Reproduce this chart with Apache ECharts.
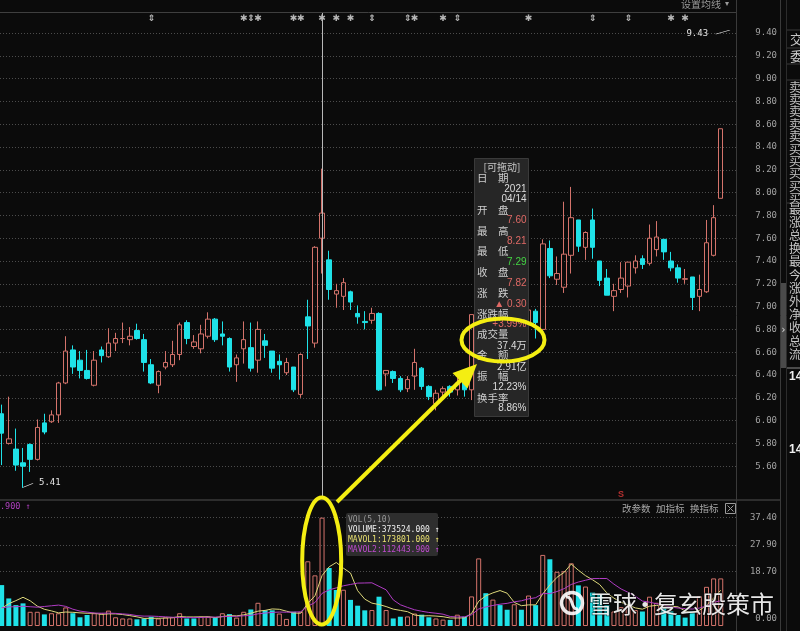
<!DOCTYPE html>
<html><head><meta charset="utf-8">
<script src="https://cdn.jsdelivr.net/npm/echarts@6/dist/echarts.min.js"></script>
<style>html,body{margin:0;padding:0;background:#0b0b0b;}#c{width:800px;height:631px;}</style>
</head><body><div id="c"></div><script>
// ---------------- data ----------------
const opens = [6.06,5.80,5.75,5.63,5.79,5.66,5.98,5.99,6.05,6.33,
6.62,6.53,6.44,6.31,6.62,6.56,6.68,6.72,6.71,6.79,
6.71,6.49,6.31,6.47,6.49,6.58,6.86,6.65,6.63,6.74,
6.89,6.76,6.72,6.49,6.63,6.64,6.53,6.70,6.61,6.52,
6.42,6.47,6.23,6.91,6.68,7.60,7.41,7.11,7.09,7.13,
6.94,6.87,6.88,6.94,6.41,6.43,6.37,6.28,6.39,6.46,
6.30,6.15,6.25,6.30,6.27,6.33,6.27,6.95,7.18,7.00,
7.06,6.98,6.90,6.96,6.84,6.96,6.80,7.51,7.24,7.17,
7.45,7.76,7.52,7.76,7.40,7.25,7.09,7.15,7.18,7.34,
7.42,7.38,7.50,7.59,7.40,7.34,7.24,7.26,7.09,7.13,
7.45,7.95];
const closes = [5.89,5.84,5.61,5.60,5.66,5.94,5.90,6.05,6.33,6.61,
6.47,6.44,6.37,6.53,6.57,6.68,6.72,6.72,6.74,6.72,
6.51,6.33,6.43,6.51,6.58,6.84,6.72,6.69,6.76,6.89,
6.71,6.74,6.47,6.55,6.71,6.46,6.80,6.66,6.46,6.49,
6.51,6.27,6.58,6.83,7.52,7.82,7.15,7.14,7.21,7.04,
6.91,6.86,6.94,6.27,6.44,6.37,6.27,6.36,6.51,6.30,
6.21,6.24,6.28,6.25,6.33,6.27,6.93,7.20,7.02,7.08,
6.98,6.90,6.97,6.85,6.97,6.86,7.55,7.27,7.29,7.46,
7.78,7.53,7.65,7.52,7.23,7.10,7.14,7.25,7.39,7.40,
7.37,7.60,7.61,7.48,7.34,7.25,7.245,7.08,7.15,7.56,
7.78,8.56];
const highs = [6.14,6.21,5.93,5.76,5.80,6.01,6.06,6.09,6.34,6.74,
6.66,6.61,6.62,6.61,6.65,6.81,6.77,6.86,6.82,6.85,
6.76,6.54,6.44,6.61,6.70,6.86,6.88,6.75,6.84,6.95,
6.90,6.87,6.73,6.58,6.87,6.86,6.87,6.76,6.61,6.58,
6.55,6.47,6.59,7.06,7.53,8.21,7.49,7.20,7.25,7.14,
7.01,6.96,6.99,6.95,6.44,6.44,6.39,6.39,6.63,6.47,
6.31,6.27,6.30,6.31,6.39,6.41,6.93,7.35,7.22,7.15,
7.10,7.00,7.02,6.98,7.09,6.98,7.59,7.58,7.44,7.92,
8.05,7.76,7.66,7.86,7.40,7.33,7.20,7.39,7.39,7.45,
7.45,7.72,7.75,7.59,7.48,7.37,7.33,7.26,7.28,7.76,
7.89,8.56];
const lows = [5.61,5.79,5.56,5.41,5.55,5.65,5.88,5.98,5.98,6.32,
6.41,6.37,6.36,6.30,6.51,6.55,6.61,6.68,6.66,6.71,
6.43,6.32,6.24,6.45,6.47,6.53,6.67,6.63,6.59,6.72,
6.69,6.66,6.43,6.34,6.50,6.43,6.42,6.55,6.42,6.36,
6.40,6.25,6.20,6.54,6.64,7.29,7.06,6.99,6.97,6.97,
6.85,6.80,6.85,6.26,6.30,6.33,6.25,6.25,6.27,6.27,
6.18,6.09,6.18,6.21,6.22,6.21,6.18,6.90,6.98,6.95,
6.94,6.86,6.87,6.82,6.80,6.72,6.78,7.25,7.19,7.12,
7.29,7.48,7.41,7.42,7.18,7.10,6.96,7.12,7.08,7.29,
7.33,7.36,7.44,7.41,7.31,7.21,7.20,6.97,6.96,7.12,
7.44,7.95];
// volume in 万 shares
const volumes = [14.1,9.5,7.2,7.8,4.9,4.9,4.0,4.4,4.4,6.4,
4.4,3.0,3.8,4.4,4.4,5.3,3.0,2.6,2.6,2.3,
2.6,3.2,2.6,3.0,3.0,4.4,2.6,2.6,3.2,3.2,
2.9,4.4,4.1,2.9,4.9,5.7,8.0,5.4,5.4,4.3,
2.44,4.9,4.9,22.3,17.45,37.35,20.0,12.4,12.5,9.0,
7.0,5.4,5.5,10.1,5.5,2.6,3.2,3.3,4.3,3.9,
3.0,2.6,2.2,2.1,3.9,3.2,10.2,23.3,11.3,9.1,
7.2,5.6,7.5,5.6,10.5,7.2,24.5,23.0,18.7,18.9,
21.6,14.0,13.6,11.5,10.7,7.2,5.0,6.5,7.0,5.5,
5.0,10.1,8.0,6.1,5.0,3.8,2.9,5.0,10.3,13.5,
16.4,16.4];
// volumes of the days just before the window (seed the moving averages)
const priorVolumes = [6.6,6.5,6.2,6.6,6.5,1.5,2.0,2.0,10.9];
const priceTicks = [5.6,5.8,6.0,6.2,6.4,6.6,6.8,7.0,7.2,7.4,7.6,7.8,8.0,8.2,8.4,8.6,8.8,9.0,9.2,9.4];
const volLabelTicks = [0, 18.7, 27.9, 37.4];
const volGridTicks = [18.7, 27.9, 37.4];
const starMarks = [35,37,42,43,46,48,50,59,63,75,95,97];   // day numbers
const arrowMarks = [22,36,53,58,65,84,89];
const sellSignalDay = 88;
const cursorDay = 46;
const periodHigh = 9.43;

// ---------------- layout constants ----------------
const PMIN = 5.3211, PMAX = 9.5842, VMAX = 42.74, MARK_ROW = 9.53, SIG_ROW = 5.35;
const RED = '#d4736b', CYAN = '#1fe2e8', YEL = '#f4ee12';
const N = closes.length;
const cats = closes.map((_, i) => String(i + 1));
const candleData = closes.map((c, i) => [opens[i], c, lows[i], highs[i]]);
const upVol = closes.map((c, i) => i === 0 ? c >= opens[i] : c >= closes[i - 1]);
function movingAvg(n) {
  const all = priorVolumes.concat(volumes), off = priorVolumes.length;
  return volumes.map((_, i) => { let s = 0; for (let k = 0; k < n; k++) s += all[off + i - k]; return +(s / n).toFixed(3); });
}
const ma5 = movingAvg(5), ma10 = movingAvg(10);
let lowIdx = 0; lows.forEach((v, i) => { if (v < lows[lowIdx]) lowIdx = i; });

// ---------------- overlay graphics (panel chrome, tooltip, annotations) ----------------
const G = [];
const addLine = (x1, y1, x2, y2, stroke, lineWidth = 1, z = 40) => G.push({ type: 'line', silent: true, z, shape: { x1, y1, x2, y2 }, style: { stroke, lineWidth } });
const addText = (x, y, text, o = {}) => G.push({ type: 'text', silent: true, z: o.z || 110, x, y,
  style: { text, fill: o.fill || '#c8c8c8', fontSize: o.size || 10, fontFamily: o.font || 'Noto Sans CJK SC', fontWeight: o.weight || 'normal',
    align: o.align || 'left', verticalAlign: 'middle', textAlign: o.align || 'left', textVerticalAlign: 'middle',
    stroke: o.stroke || null, lineWidth: o.lw || 0, opacity: o.opacity == null ? 1 : o.opacity } });

// frame
addLine(0, 12.5, 737, 12.5, '#3f3f3f');
addLine(0, 500, 781, 500, '#3a3a3a', 1.5);
addLine(736.5, 0, 736.5, 631, '#3a3a3a');
addLine(780.5, 0, 780.5, 631, '#3a3a3a');
addLine(786.5, 0, 786.5, 631, '#2c2c2c');
addText(721, 4, '设置均线', { align: 'right', size: 10, fill: '#9a9a9a' });
addText(727, 4, '▾', { align: 'center', size: 8, fill: '#9a9a9a', font: 'DejaVu Sans' });

// side panel (cut off)
[30, 48, 64, 80, 203].forEach(y => addLine(787, y, 800, y, '#3a3a3a'));
addText(790, 39, '交', { size: 13, fill: '#c8c8c8' });
addText(790, 56, '委', { size: 13, fill: '#c8c8c8' });
['卖','卖','卖','卖','卖','买','买','买','买','买'].forEach((t, i) => addText(789, 87 + i * 12.4, t, { size: 12, fill: '#c0c0c0' }));
['最','涨','总','换','最','今','涨','外','净','收','总','流'].forEach((t, i) => addText(789, 209 + i * 13.2, t, { size: 12, fill: '#c8c8c8' }));
G.push({ type: 'rect', silent: true, z: 45, shape: { x: 781, y: 283, width: 5, height: 85 }, style: { fill: '#4a4a4a' } });
addText(783.5, 330, '›', { align: 'center', size: 10, fill: '#e0e0e0', font: 'DejaVu Sans' });
addLine(787, 368, 800, 368, '#8a8a8a');
addText(789, 377, '14', { size: 12, fill: '#f0f0f0', weight: 'bold', font: 'Liberation Sans' });
addText(789, 450, '14', { size: 12, fill: '#f0f0f0', weight: 'bold', font: 'Liberation Sans' });

// volume panel header
addText(0, 507, '.900 ↑', { size: 8.5, fill: '#b040c0', font: 'DejaVu Sans Mono' });
addText(622, 508, '改参数', { size: 9.5, fill: '#a8a8a8' });
addText(656, 508, '加指标', { size: 9.5, fill: '#a8a8a8' });
addText(690, 508, '换指标', { size: 9.5, fill: '#a8a8a8' });
G.push({ type: 'rect', silent: true, z: 110, shape: { x: 725.5, y: 503.5, width: 10, height: 10 }, style: { fill: 'none', stroke: '#9a9a9a', lineWidth: 1 } });
addLine(727.5, 505.5, 733.5, 511.5, '#9a9a9a', 1, 110);
addLine(733.5, 505.5, 727.5, 511.5, '#9a9a9a', 1, 110);

// volume info box
G.push({ type: 'rect', silent: true, z: 100, shape: { x: 346, y: 513, width: 92, height: 43, r: 2 }, style: { fill: '#2e2e2e' } });
addText(348, 519.5, 'VOL(5,10)', { size: 8, fill: '#9a9a9a', font: 'DejaVu Sans Mono' });
addText(348, 529.5, 'VOLUME:373524.000 ↑', { size: 8, fill: '#f0f0f0', font: 'DejaVu Sans Mono' });
addText(348, 539.5, 'MAVOL1:173801.000 ↑', { size: 8, fill: '#e8e070', font: 'DejaVu Sans Mono' });
addText(348, 549.5, 'MAVOL2:112443.900 ↑', { size: 8, fill: '#c04cd0', font: 'DejaVu Sans Mono' });

// draggable info panel
G.push({ type: 'rect', silent: true, z: 100, shape: { x: 474.5, y: 158.5, width: 54, height: 258 }, style: { fill: '#262626', stroke: '#3a3a3a', lineWidth: 1 } });
const LBL = '#cfcfcf', VAL = '#dcdcdc', RT = '#e06a66', GT = '#44d444';
const tipRows = [
  ['[可拖动]', 167, 'c', '#c8c8c8'], ['日　期', 178.5, 'l', LBL], ['2021', 189, 'r', VAL], ['04/14', 199.5, 'r', VAL],
  ['开　盘', 210, 'l', LBL], ['7.60', 220.5, 'r', RT], ['最　高', 231, 'l', LBL], ['8.21', 241, 'r', RT],
  ['最　低', 251, 'l', LBL], ['7.29', 262, 'r', GT], ['收　盘', 272.5, 'l', LBL], ['7.82', 283, 'r', RT],
  ['涨　跌', 293.5, 'l', LBL], ['▲ 0.30', 304, 'r', RT], ['涨跌幅', 314, 'l', LBL], ['+3.99%', 324.5, 'r', RT],
  ['成交量', 334.5, 'l', LBL], ['37.4万', 345, 'r', VAL], ['金　额', 355.5, 'l', LBL], ['2.91亿', 366, 'r', VAL],
  ['振　幅', 376.5, 'l', LBL], ['12.23%', 387.5, 'r', VAL], ['换手率', 398, 'l', LBL], ['8.86%', 408.5, 'r', VAL]
];
tipRows.forEach(([t, y, a, col]) => {
  if (a === 'l') addText(477, y, t, { size: 10.5, fill: col });
  else if (a === 'r') addText(526.5, y, t, { size: 10, fill: col, align: 'right', font: /[万亿]/.test(t) ? 'Noto Sans CJK SC' : 'Liberation Sans' });
  else addText(502, y, t, { size: 10, fill: col, align: 'center' });
});

// yellow hand-drawn annotations
G.push({ type: 'ellipse', silent: true, z: 120, shape: { cx: 321.7, cy: 561, rx: 19.5, ry: 63.5 }, style: { fill: 'none', stroke: YEL, lineWidth: 4 } });
G.push({ type: 'ellipse', silent: true, z: 120, shape: { cx: 503, cy: 340, rx: 41.5, ry: 21.5 }, style: { fill: 'none', stroke: YEL, lineWidth: 4 } });
G.push({ type: 'line', silent: true, z: 120, shape: { x1: 337, y1: 502, x2: 465, y2: 376 }, style: { stroke: YEL, lineWidth: 4 } });
G.push({ type: 'polygon', silent: true, z: 120, shape: { points: [[477, 364], [467.5, 388.5], [452.5, 373]] }, style: { fill: YEL } });

// watermark
G.push({ type: 'circle', silent: true, z: 130, shape: { cx: 572, cy: 603, r: 10.5 }, style: { fill: 'none', stroke: 'rgba(255,255,255,0.9)', lineWidth: 3.5 } });
G.push({ type: 'bezierCurve', silent: true, z: 130, shape: { x1: 566, y1: 597, x2: 578, y2: 609, cpx1: 574, cpy1: 596, cpx2: 570, cpy2: 610 }, style: { fill: 'none', stroke: 'rgba(255,255,255,0.9)', lineWidth: 3 } });
addText(589, 604, '雪球', { size: 24, fill: 'rgba(255,255,255,0.9)', stroke: 'rgba(0,0,0,0.55)', lw: 1.5, z: 130 });
addText(645, 604, '·', { size: 24, fill: 'rgba(255,255,255,0.9)', align: 'center', z: 130 });
addText(654, 604, '复玄股策市', { size: 24, fill: 'rgba(255,255,255,0.9)', stroke: 'rgba(0,0,0,0.55)', lw: 1.5, z: 130 });

// ---------------- chart ----------------
const chart = echarts.init(document.getElementById('c'));
const lblFont = { color: '#a2a2a2', fontFamily: 'DejaVu Sans Mono', fontSize: 9 };
const option = {
  backgroundColor: '#0b0b0b',
  animation: false,
  grid: [
    { left: 0, top: 12, width: 737, height: 486, outerBoundsMode: 'none' },
    { left: -1.9, top: 12, width: 726.2, height: 486, outerBoundsMode: 'none' },
    { left: 0, top: 502, width: 737, height: 124, outerBoundsMode: 'none' },
    { left: -1.9, top: 502, width: 726.2, height: 124, outerBoundsMode: 'none' }
  ],
  xAxis: [
    { type: 'value', gridIndex: 0, min: 0, max: 1, show: false },
    { type: 'category', gridIndex: 1, data: cats, show: false, boundaryGap: true },
    { type: 'value', gridIndex: 2, min: 0, max: 1, show: false },
    { type: 'category', gridIndex: 3, data: cats, show: false, boundaryGap: true }
  ],
  yAxis: [
    { type: 'value', gridIndex: 0, position: 'right', min: PMIN, max: PMAX,
      axisLine: { show: false }, axisTick: { show: false, customValues: priceTicks },
      axisLabel: Object.assign({ show: true, customValues: priceTicks, formatter: v => v.toFixed(2), align: 'right', margin: 40 }, lblFont),
      splitLine: { show: true, lineStyle: { color: '#4c4c4c', type: [1, 2], width: 1 } } },
    { type: 'value', gridIndex: 1, min: PMIN, max: PMAX, show: false, splitLine: { show: false } },
    { type: 'value', gridIndex: 2, position: 'right', min: 0, max: VMAX,
      axisLine: { show: false }, axisTick: { show: false, customValues: volGridTicks },
      axisLabel: Object.assign({ show: true, customValues: volLabelTicks, align: 'right', margin: 40,
        formatter: v => v === 0 ? '{z|0.00}' : v.toFixed(2),
        rich: { z: Object.assign({ padding: [0, 0, 14, 0] }, lblFont) } }, lblFont),
      splitLine: { show: true, lineStyle: { color: '#4c4c4c', type: [1, 2], width: 1 } } },
    { type: 'value', gridIndex: 3, min: 0, max: VMAX, show: false, splitLine: { show: false } }
  ],
  series: [
    { type: 'candlestick', xAxisIndex: 1, yAxisIndex: 1, data: candleData, barWidth: 5, silent: true,
      itemStyle: { color: 'rgba(0,0,0,0)', borderColor: RED, color0: CYAN, borderColor0: CYAN, borderWidth: 1 },
      markLine: { silent: true, symbol: ['none', 'none'], label: { show: false }, animation: false,
        lineStyle: { color: '#b8b8b8', width: 1, type: 'solid' }, data: [{ xAxis: cursorDay - 1 }] },
      markPoint: { silent: true, animation: false, data: [
        { coord: [lowIdx, lows[lowIdx]], symbol: 'path://M0,4 L10,0', symbolSize: [10, 4], symbolOffset: [5, -2.5], symbolKeepAspect: false,
          itemStyle: { color: 'none', borderColor: '#e6e6e6', borderWidth: 1 },
          label: { show: true, position: 'right', distance: 2, offset: [0, -3], formatter: lows[lowIdx].toFixed(2), color: '#e6e6e6', fontSize: 9, fontFamily: 'DejaVu Sans Mono' } },
        { coord: [N - 1, periodHigh], symbol: 'path://M0,4 L14,0', symbolSize: [14, 4], symbolOffset: [2, 2.6], symbolKeepAspect: false,
          itemStyle: { color: 'none', borderColor: '#e6e6e6', borderWidth: 1 },
          label: { show: true, position: 'left', distance: 3, offset: [0, 1.5], formatter: periodHigh.toFixed(2), color: '#e6e6e6', fontSize: 9, fontFamily: 'DejaVu Sans Mono' } }
      ] } },
    { type: 'scatter', xAxisIndex: 1, yAxisIndex: 1, silent: true, symbolSize: 1, itemStyle: { color: 'rgba(0,0,0,0)' },
      data: starMarks.map(d => [d - 1, MARK_ROW]),
      label: { show: true, position: 'inside', formatter: '✱', color: '#e2e2e2', fontSize: 9, fontFamily: 'DejaVu Sans' } },
    { type: 'scatter', xAxisIndex: 1, yAxisIndex: 1, silent: true, symbolSize: 1, itemStyle: { color: 'rgba(0,0,0,0)' },
      data: arrowMarks.map(d => [d - 1, MARK_ROW]),
      label: { show: true, position: 'inside', formatter: '⇕', color: '#e2e2e2', fontSize: 9, fontWeight: 'bold', fontFamily: 'DejaVu Sans' } },
    { type: 'scatter', xAxisIndex: 1, yAxisIndex: 1, silent: true, symbolSize: 1, itemStyle: { color: 'rgba(0,0,0,0)' },
      data: [[sellSignalDay - 1, SIG_ROW]],
      label: { show: true, position: 'inside', formatter: 'S', color: '#e03a3a', fontSize: 9, fontWeight: 'bold', fontFamily: 'Liberation Sans' } },
    { type: 'bar', xAxisIndex: 3, yAxisIndex: 3, barWidth: 5, silent: true,
      data: volumes.map((v, i) => ({ value: v, itemStyle: upVol[i] ? { color: 'rgba(0,0,0,0)', borderColor: RED, borderWidth: 1 } : { color: CYAN } })) },
    { type: 'line', xAxisIndex: 3, yAxisIndex: 3, data: ma5, symbol: 'none', silent: true, lineStyle: { color: '#ddd87a', width: 1 } },
    { type: 'line', xAxisIndex: 3, yAxisIndex: 3, data: ma10, symbol: 'none', silent: true, lineStyle: { color: '#b03cc4', width: 1 } }
  ],
  graphic: G
};
chart.setOption(option);
</script></body></html>
